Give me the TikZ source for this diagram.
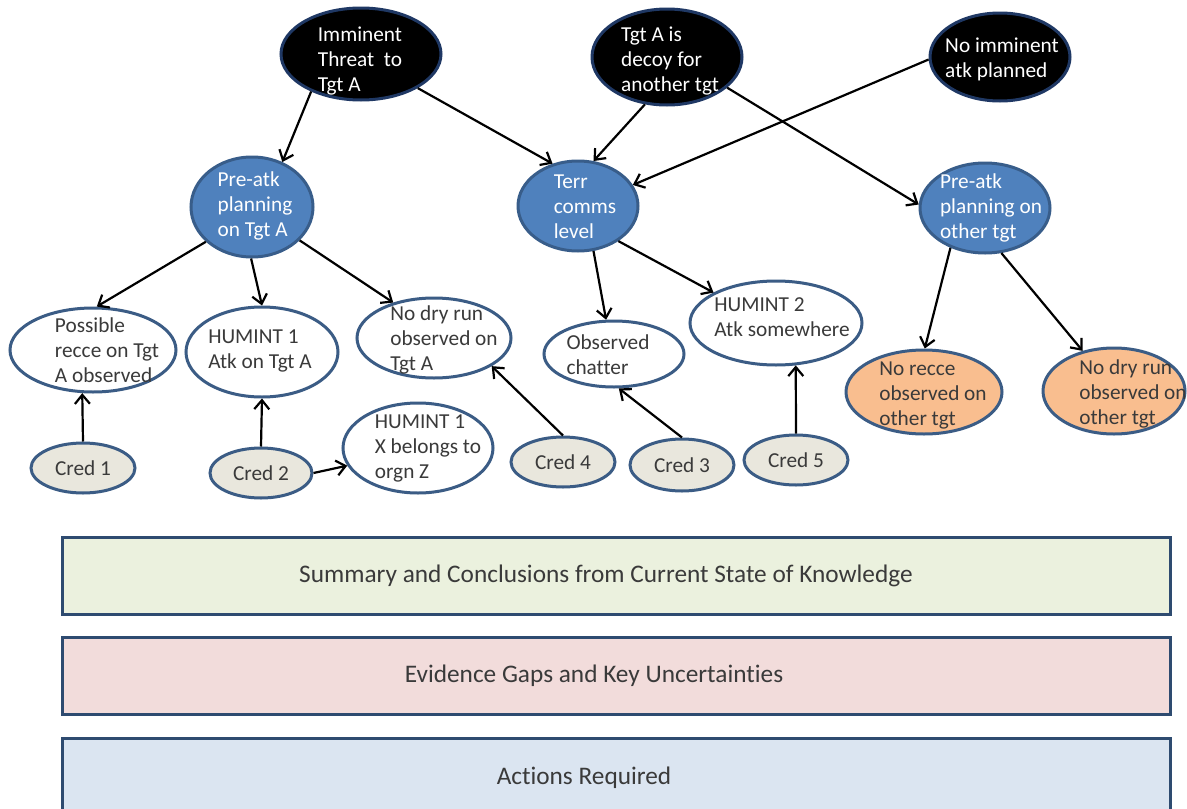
\documentclass[tikz,border=0pt]{standalone}
\usepackage{fontspec}
\setmainfont{Carlito}[Ligatures=NoCommon]
\usetikzlibrary{shapes.geometric,arrows.meta}
\definecolor{navy}{HTML}{1F3864}
\definecolor{bluefill}{HTML}{4F81BD}
\definecolor{blueline}{HTML}{385D8A}
\definecolor{wline}{HTML}{3B5C85}
\definecolor{credfill}{HTML}{E9E7DD}
\definecolor{orangefill}{HTML}{F9BE8F}
\definecolor{txtgray}{HTML}{3A3A3A}
\definecolor{boxgreen}{HTML}{EBF1DE}
\definecolor{boxpink}{HTML}{F2DCDB}
\definecolor{boxblue}{HTML}{DBE5F1}
\definecolor{boxline}{HTML}{2E4B70}
\tikzset{
  base/.style={ellipse, inner sep=0pt, line width=3pt},
  blacknode/.style={base, fill=black, draw=navy},
  bluenode/.style={base, fill=bluefill, draw=blueline},
  whitenode/.style={base, fill=white, draw=wline},
  crednode/.style={base, fill=credfill, draw=wline},
  orangenode/.style={base, fill=orangefill, draw=wline},
  wtxt/.style={align=left, inner sep=0pt, text=white, font=\fontsize{21.3}{25}\selectfont},
  dtxt/.style={align=left, inner sep=0pt, text=txtgray, font=\fontsize{21.3}{25}\selectfont},
  arr/.style={line width=2.2pt, -{Straight Barb[length=9pt,width=15pt,line width=2.2pt]}},
  band/.style={line width=3pt, draw=boxline},
  btxt/.style={inner sep=0pt, text=txtgray, font=\fontsize{25.3}{29}\selectfont}
}
\begin{document}
\begin{tikzpicture}[x=1pt,y=-1pt]
\useasboundingbox (0,0) rectangle (1187,809);
\fill[white] (0,0) rectangle (1187,809);
% top row
\node[blacknode, minimum width=160pt, minimum height=92pt] (A) at (361,54) {};
\node[wtxt] (At) at (360,61) {Imminent\\Threat\ \ to\\Tgt A};
\node[blacknode, minimum width=150pt, minimum height=96pt] (B) at (667,57) {};
\node[wtxt] (Bt) at (670,61) {Tgt A is\\decoy for\\another tgt};
\node[blacknode, minimum width=140pt, minimum height=88pt] (C) at (1000,57) {};
\node[wtxt] (Ct) at (1002,59) {No imminent\\atk planned};
% second row
\node[bluenode, minimum width=122pt, minimum height=100pt] (D) at (252,207) {};
\node[wtxt] (Dt) at (255,206) {Pre-atk\\planning\\on Tgt A};
\node[bluenode, minimum width=120pt, minimum height=90pt] (E) at (578,206) {};
\node[wtxt] (Et) at (585,207) {Terr\\comms\\level};
\node[bluenode, minimum width=130pt, minimum height=90pt] (F) at (985,208) {};
\node[wtxt] (Ft) at (991,208) {Pre-atk\\planning on\\other tgt};
% third row
\node[whitenode, minimum width=166pt, minimum height=84pt] (G) at (93,350) {};
\node[dtxt] (Gt) at (107,350) {Possible\\recce on Tgt\\A observed};
\node[whitenode, minimum width=152pt, minimum height=90pt] (H) at (262,352) {};
\node[dtxt] (Ht) at (260,351) {HUMINT 1\\Atk on Tgt A};
\node[whitenode, minimum width=154pt, minimum height=80pt] (I) at (434,338) {};
\node[dtxt] (It) at (444,340) {No dry run\\observed on\\Tgt A};
\node[whitenode, minimum width=150pt, minimum height=90pt] (J) at (418,448) {};
\node[dtxt] (Jt) at (428,448) {HUMINT 1\\X belongs to\\orgn Z};
\node[whitenode, minimum width=140pt, minimum height=66pt] (K) at (614,354) {};
\node[dtxt] (Kt) at (608,355) {Observed\\chatter};
\node[whitenode, minimum width=172pt, minimum height=84pt] (L) at (776,323) {};
\node[dtxt] (Lt) at (782,317) {HUMINT 2\\Atk somewhere};
\node[orangenode, minimum width=156pt, minimum height=84pt] (M) at (924,392) {};
\node[dtxt] (Mt) at (933,395) {No recce\\observed on\\other tgt};
\node[orangenode, minimum width=142pt, minimum height=86pt] (N) at (1114,391) {};
\node[dtxt] (Nt) at (1133,394) {No dry run\\observed on\\other tgt};
% cred nodes
\node[crednode, minimum width=104pt, minimum height=50pt, dtxt] (c1) at (83,468) {Cred 1};
\node[crednode, minimum width=102pt, minimum height=50pt, dtxt] (c2) at (261,473) {Cred 2};
\node[crednode, minimum width=104pt, minimum height=50pt, dtxt] (c4) at (563,462) {Cred 4};
\node[crednode, minimum width=104pt, minimum height=52pt, dtxt] (c3) at (682,465) {Cred 3};
\node[crednode, minimum width=104pt, minimum height=50pt, dtxt] (c5) at (796,460) {Cred 5};
% arrows
\draw[arr] (A.217) -- (D.56);
\draw[arr] (A.329) -- (E.121);
\draw[arr] (B.245) -- (E.71);
\draw[arr] (C.182) -- (E.21);
\draw[arr] (B.333) -- (F.177);
\draw[arr] (D.217) -- (G.85);
\draw[arr] (D.269) -- (H.90);
\draw[arr] (D.325) -- (I.139);
\draw[arr] (E.289) -- (K.103);
\draw[arr] (E.319) -- (L.154);
\draw[arr] (F.229) -- (M.89);
\draw[arr] (F.290) -- (N.128);
\draw[arr] (c1.90) -- (G.256);
\draw[arr] (c2.90) -- (H.270);
\draw[arr] (c2.0) -- (J.194);
\draw[arr] (c4.90) -- (I.334);
\draw[arr] (c3.90) -- (K.278);
\draw[arr] (c5.90) -- (L.295);
% bands
\node[band, fill=boxgreen, minimum width=1108pt, minimum height=77pt, inner sep=0pt, btxt] (S1) at (616,576) {\hspace*{-20pt}Summary and Conclusions from Current State of Knowledge};
\node[band, fill=boxpink, minimum width=1108pt, minimum height=77pt, inner sep=0pt, btxt] (S2) at (616,676) {\hspace*{-44pt}Evidence Gaps and Key Uncertainties};
\draw[band, fill=boxblue] (62,830) -- (62,738) -- (1170,738) -- (1170,830);
\node[btxt] (S3) at (584,778) {Actions Required};
\end{tikzpicture}
\end{document}
